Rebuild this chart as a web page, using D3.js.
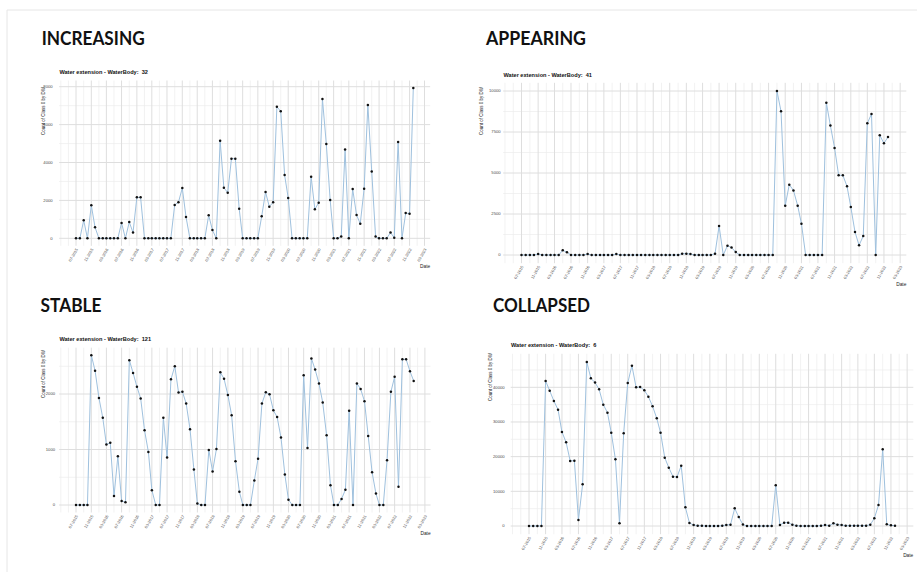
<!DOCTYPE html>
<html>
<head>
<meta charset="utf-8">
<script src="https://cdn.jsdelivr.net/npm/d3@7"></script>
<style>
    body { margin: 0; background: #fff; }
    svg { display: block; font-family: "Liberation Sans", Arial, sans-serif; }
    .heading { font-family: Lato, "Open Sans", sans-serif; font-weight: 700; fill: #111; }
</style>
</head>
<body>
<div id="chart"></div>
<script>
// Data
// ==============================
var firstMonth = "07-2015";
var lastMonth = "12-2022";

var tickLabels = ["07-2015", "11-2015", "03-2016", "07-2016", "11-2016", "03-2017",
    "07-2017", "11-2017", "03-2018", "07-2018", "11-2018", "03-2019", "07-2019", "11-2019",
    "03-2020", "07-2020", "11-2020", "03-2021", "07-2021", "11-2021", "03-2022", "07-2022",
    "11-2022", "03-2023"];

var headings = ["INCREASING", "APPEARING", "STABLE", "COLLAPSED"];
var waterBodies = ["32", "41", "121", "6"];

var values32 = [0, 0, 950, 0, 1740, 580, 0, 0, 0, 0,
    0, 0, 810, 0, 860, 300, 2160, 2160, 0, 0,
    0, 0, 0, 0, 0, 0, 1760, 1900, 2650, 1125,
    0, 0, 0, 0, 0, 1210, 440, 0, 5150, 2670,
    2410, 4200, 4200, 1565, 0, 0, 0, 0, 0, 1160,
    2440, 1670, 1900, 6940, 6700, 3340, 2130, 0, 0, 0,
    0, 0, 3250, 1530, 1880, 7350, 4980, 2020, 0, 0,
    90, 4690, 0, 2600, 1230, 770, 2620, 7030, 3520, 90,
    0, 0, 0, 300, 30, 5080, 0, 1330, 1300, 7930];

var values41 = [0, 0, 0, 0, 60, 0, 0, 0, 0, 0,
    290, 165, 0, 0, 0, 0, 60, 0, 0, 0,
    0, 0, 0, 60, 0, 0, 0, 0, 0, 0,
    0, 0, 0, 0, 0, 0, 0, 0, 0, 80,
    80, 60, 0, 0, 0, 0, 0, 80, 1770, 0,
    570, 450, 180, 0, 0, 0, 0, 0, 0, 0,
    0, 0, 10000, 8760, 3010, 4290, 3940, 3010, 1910, 0,
    0, 0, 0, 0, 9290, 7890, 6530, 4860, 4860, 4190,
    2930, 1400, 590, 1160, 8030, 8600, 0, 7300, 6810, 7200];

var values121 = [0, 0, 0, 0, 2700, 2420, 1930, 1570, 1090, 1120,
    160, 880, 70, 50, 2610, 2380, 2130, 1920, 1345, 955,
    265, 0, 0, 1570, 855, 2265, 2500, 2025, 2040, 1830,
    1365, 640, 25, 0, 0, 990, 605, 1010, 2390, 2275,
    1980, 1615, 790, 240, 0, 0, 0, 440, 835, 1830,
    2030, 1995, 1705, 1585, 1215, 550, 95, 0, 0, 0,
    2340, 1025, 2640, 2440, 2190, 1845, 1255, 355, 0, 0,
    110, 275, 1700, 0, 2190, 2090, 1870, 1245, 590, 205,
    0, 0, 805, 2040, 2310, 330, 2625, 2625, 2410, 2235];

var values6 = [0, 0, 0, 0, 41830, 39040, 36060, 33560, 27110, 24130,
    18750, 18850, 1730, 12020, 47300, 42600, 41350, 39420, 35000, 32690,
    26920, 19230, 770, 26730, 41250, 46250, 40000, 40100, 39130, 37300,
    34520, 31060, 26920, 19710, 16830, 14230, 14130, 17400, 5380, 870,
    290, 100, 50, 0, 0, 0, 0, 100, 290, 385,
    5100, 2600, 400, 0, 0, 0, 0, 0, 0, 0,
    11730, 290, 960, 960, 385, 100, 0, 0, 0, 0,
    0, 100, 290, 100, 770, 385, 290, 100, 100, 100,
    100, 100, 100, 385, 2200, 6060, 22100, 480, 190, 100];

var yTicks32 = [0, 2000, 4000, 6000, 8000];
var yTicks41 = [0, 2500, 5000, 7500, 10000];
var yTicks121 = [0, 1000, 2000];
var yTicks6 = [0, 10000, 20000, 30000, 40000];

var yTitle = "Count of Class 0 by DW";
var xTitle = "Date";

// Layout (pixel positions of each small plot)
// ==============================
var panels = [
    { heading: headings[0], hx: 41.7, hy: 45, hw: 103, body: waterBodies[0], values: values32, yTicks: yTicks32,
      x0: 76, x1: 413.3, y0: 238.3, yTopPx: 86.7, yTitleX: 43.3, yTitleTop: 87, tickGap: 6.5 },
    { heading: headings[1], hx: 486, hy: 45, hw: 100, body: waterBodies[1], values: values41, yTicks: yTicks41,
      x0: 521.5, x1: 888, y0: 255, yTopPx: 91, yTitleX: 481.7, yTitleTop: 87, tickGap: 2.5 },
    { heading: headings[2], hx: 40.5, hy: 312, hw: 61, body: waterBodies[2], values: values121, yTicks: yTicks121,
      x0: 76, x1: 413.7, y0: 505, yTopPx: 394, yTitleX: 43.3, yTitleTop: 350, tickGap: 4 },
    { heading: headings[3], hx: 493, hy: 312, hw: 97, body: waterBodies[3], values: values6, yTicks: yTicks6,
      x0: 529, x1: 895, y0: 526, yTopPx: 387.3, yTitleX: 490, yTitleTop: 353, tickGap: 6 }
];

var svgWidth = 917;
var svgHeight = 572;

var svg = d3.select("#chart")
    .append("svg")
    .attr("width", svgWidth)
    .attr("height", svgHeight);

// slide frame
svg.append("path")
    .attr("d", `M7,${svgHeight} L7,10 L${svgWidth},10`)
    .attr("fill", "none")
    .attr("stroke", "#e6e6e6")
    .attr("stroke-width", 1);

var parseMonth = d3.timeParse("%m-%Y");
var months = d3.timeMonth.range(parseMonth(firstMonth), d3.timeMonth.offset(parseMonth(lastMonth), 1));
var tickDates = tickLabels.map(parseMonth);

panels.forEach(drawPanel);

function drawPanel(p) {
    var g = svg.append("g");

    // Scales (ggplot style 5% expansion)
    // ==============================
    var x = d3.scaleTime()
        .domain([months[0], months[months.length - 1]])
        .range([p.x0, p.x1]);
    var y = d3.scaleLinear()
        .domain([0, p.yTicks[p.yTicks.length - 1]])
        .range([p.y0, p.yTopPx]);

    var yMax = d3.max(p.values);
    var left = p.x0 - 0.05 * (p.x1 - p.x0);
    var right = p.x1 + 0.05 * (p.x1 - p.x0);
    var top = y(yMax * 1.05);
    var bottom = y(-yMax * 0.05);

    // Grid lines
    // ==============================
    var minorX = [];
    for (var i = -1; i < tickDates.length; i++) {
        var base = i < 0 ? d3.timeMonth.offset(tickDates[0], -4) : tickDates[i];
        minorX.push(base, d3.timeMonth.offset(base, 2));
    }
    minorX = minorX.filter(d => x(d) >= left && x(d) <= right && tickDates.every(t => +t !== +d));

    var step = p.yTicks[1] - p.yTicks[0];
    var minorY = d3.range(-step / 2, p.yTicks[p.yTicks.length - 1] + step, step)
        .filter(v => y(v) >= top && y(v) <= bottom);

    g.selectAll(".minor-y").data(minorY).enter().append("line")
        .attr("x1", left).attr("x2", right)
        .attr("y1", d => y(d)).attr("y2", d => y(d))
        .attr("stroke", "#ececec").attr("stroke-width", 0.7);

    g.selectAll(".minor-x").data(minorX).enter().append("line")
        .attr("x1", d => x(d)).attr("x2", d => x(d))
        .attr("y1", top).attr("y2", bottom)
        .attr("stroke", "#ececec").attr("stroke-width", 0.7);

    g.selectAll(".major-y").data(p.yTicks).enter().append("line")
        .attr("x1", left).attr("x2", right)
        .attr("y1", d => y(d)).attr("y2", d => y(d))
        .attr("stroke", "#dedede").attr("stroke-width", 1);

    g.selectAll(".major-x").data(tickDates.filter(d => x(d) <= right)).enter().append("line")
        .attr("x1", d => x(d)).attr("x2", d => x(d))
        .attr("y1", top).attr("y2", bottom)
        .attr("stroke", "#dedede").attr("stroke-width", 1);

    // Line and points
    // ==============================
    var line = d3.line()
        .x((d, i) => x(months[i]))
        .y(d => y(d));

    g.append("path")
        .datum(p.values)
        .attr("d", line)
        .attr("fill", "none")
        .attr("stroke", "#9fc1de")
        .attr("stroke-width", 1);

    g.selectAll("circle").data(p.values).enter().append("circle")
        .attr("cx", (d, i) => x(months[i]))
        .attr("cy", d => y(d))
        .attr("r", 1.25)
        .attr("fill", "#111");

    // Axis labels
    // ==============================
    g.selectAll(".ytick").data(p.yTicks).enter().append("text")
        .attr("x", left - p.tickGap)
        .attr("y", d => y(d))
        .attr("dy", "0.35em")
        .attr("text-anchor", "end")
        .attr("font-size", 4.2)
        .attr("fill", "#4d4d4d")
        .text(d3.format("d"));

    g.selectAll(".xtick").data(tickDates).enter().append("text")
        .attr("transform", d => `translate(${x(d) + 1}, ${bottom + 2.8}) rotate(-60)`)
        .attr("dy", "0.35em")
        .attr("text-anchor", "end")
        .attr("font-size", 4)
        .attr("fill", "#4d4d4d")
        .text((d, i) => tickLabels[i]);

    g.append("text")
        .attr("transform", `translate(${p.yTitleX}, ${p.yTitleTop}) rotate(-90)`)
        .attr("dy", "0.35em")
        .attr("text-anchor", "end")
        .attr("font-size", 4.5)
        .attr("fill", "#222")
        .text(yTitle);

    g.append("text")
        .attr("x", right)
        .attr("y", bottom + 22.5)
        .attr("text-anchor", "end")
        .attr("font-size", 4.8)
        .attr("fill", "#222")
        .text(xTitle);

    g.append("text")
        .attr("x", left + 0.3)
        .attr("y", top - 6.3)
        .attr("font-size", 5.6)
        .attr("font-weight", "bold")
        .attr("fill", "#111")
        .text("Water extension - WaterBody:\u00a0 " + p.body);

    // Slide heading
    svg.append("text")
        .attr("class", "heading")
        .attr("x", p.hx)
        .attr("y", p.hy)
        .attr("font-size", 18.5)
        .attr("textLength", p.hw)
        .attr("lengthAdjust", "spacingAndGlyphs")
        .text(p.heading);
}
</script>
</body>
</html>
